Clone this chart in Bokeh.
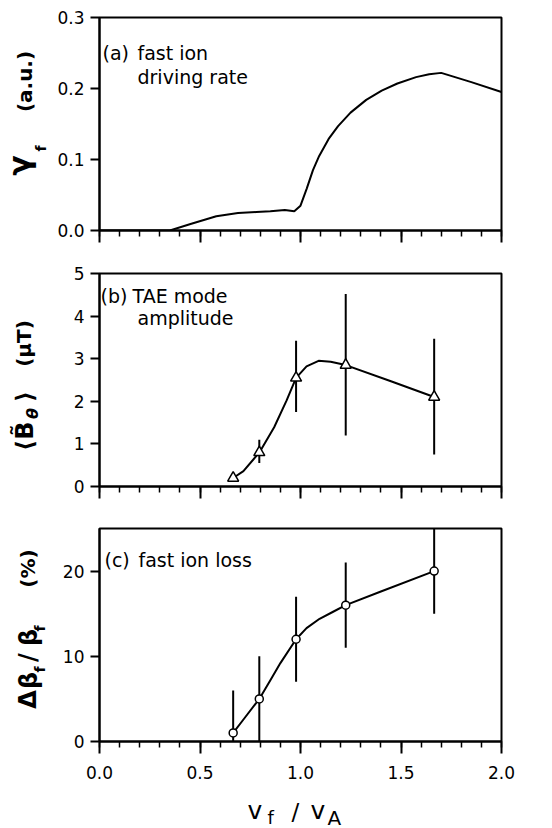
import math
from bokeh.plotting import figure
from bokeh.layouts import column, row
from bokeh.models import Label, FixedTicker, NumeralTickFormatter, Range1d
from bokeh.embed import file_html
from bokeh.resources import INLINE

# ---------------- data ----------------
x_ticks = [0.0, 0.5, 1.0, 1.5, 2.0]
x_minor = [0.1 * i for i in range(21)]
a_ticks = [0.0, 0.1, 0.2, 0.3]
b_ticks = [0, 1, 2, 3, 4, 5]
c_ticks = [0, 10, 20]

# (a) fast ion driving rate
a_curve_x = [0.0, 0.35, 0.457, 0.581, 0.689, 0.78, 0.85, 0.922, 0.969, 1.0, 1.031,
             1.062, 1.093, 1.14, 1.187, 1.249, 1.327, 1.404, 1.482, 1.575, 1.64,
             1.70, 1.85, 2.0]
a_curve_y = [0.0, 0.0, 0.0094, 0.020, 0.0245, 0.026, 0.027, 0.029, 0.027, 0.035, 0.059,
             0.085, 0.105, 0.129, 0.147, 0.166, 0.184, 0.197, 0.207, 0.216, 0.220,
             0.222, 0.209, 0.195]

# measured points (shared v_f/v_A)
pts_x = [0.665, 0.795, 0.978, 1.225, 1.665]

# (b) TAE mode amplitude
b_amp = [0.2, 0.8, 2.55, 2.85, 2.1]
b_lo = [0.2, 0.55, 1.75, 1.2, 0.75]
b_hi = [0.2, 1.1, 3.42, 4.52, 3.47]
b_curve_x = [0.665, 0.716, 0.797, 0.869, 0.931, 0.978, 1.03, 1.09, 1.15, 1.225, 1.45, 1.665]
b_curve_y = [0.2, 0.36, 0.81, 1.39, 2.02, 2.55, 2.82, 2.95, 2.93, 2.85, 2.47, 2.1]

# (c) fast ion loss
c_loss = [1, 5, 12, 16, 20]
c_lo = [0, 0, 7, 11, 15]
c_hi = [6, 10, 17, 21, 25]
c_curve_x = [0.665, 0.72, 0.795, 0.85, 0.90, 0.978, 1.03, 1.095, 1.16, 1.225, 1.40, 1.665]
c_curve_y = [1.0, 2.7, 5.0, 7.2, 9.2, 12.0, 13.3, 14.4, 15.2, 16.0, 17.6, 20.0]

# ---------------- layout ----------------
FONT = "DejaVu Sans"
W = 552
STRIP = 50          # width of the y-label strip on the left
FL = 99             # page x of the frame's left edge
FW, FH = 402, 213
XMAX = 2.0

# (top border, bottom border) for each panel
BORDERS = [(17, 22), (21, 22), (20, 46)]
ROW_TOP = [0, 252, 508]
XLAB_TOP = 508 + 20 + FH + 46
XLAB_H = 828 - XLAB_TOP


def make_fig(ymax, top, bottom, yticks, yfmt, xlabels):
    p = figure(frame_width=FW, frame_height=FH,
               x_range=Range1d(0, XMAX), y_range=Range1d(0, ymax),
               min_border_left=FL - STRIP, min_border_right=W - FL - FW,
               min_border_top=top, min_border_bottom=bottom,
               output_backend="svg", toolbar_location=None)
    p.title = None
    p.grid.visible = False
    p.outline_line_color = "black"
    p.outline_line_width = 2
    p.outline_line_alpha = 1
    p.background_fill_color = "white"
    p.border_fill_color = "white"

    xa = p.xaxis[0]
    xa.ticker = FixedTicker(ticks=x_ticks, minor_ticks=x_minor)
    xa.axis_line_width = 2
    xa.major_tick_in = 0
    xa.major_tick_out = 12
    xa.minor_tick_in = 0
    xa.minor_tick_out = 6
    xa.major_tick_line_width = 2
    xa.minor_tick_line_width = 1.5
    xa.formatter = NumeralTickFormatter(format="0.0")
    xa.major_label_text_font = FONT
    xa.major_label_text_color = "black"
    if xlabels:
        xa.major_label_text_font_size = "17px"
        xa.major_label_standoff = 12
    else:
        xa.major_label_overrides = {t: "" for t in x_ticks}
        xa.major_label_text_font_size = "0px"
        xa.major_label_standoff = 0

    ya = p.yaxis[0]
    ya.ticker = FixedTicker(ticks=yticks, minor_ticks=[])
    ya.axis_line_width = 2
    ya.major_tick_in = 0
    ya.major_tick_out = 9
    ya.minor_tick_in = 0
    ya.minor_tick_out = 0
    ya.major_tick_line_width = 2
    ya.formatter = NumeralTickFormatter(format=yfmt)
    ya.major_label_text_font = FONT
    ya.major_label_text_font_size = "17px"
    ya.major_label_text_color = "black"
    ya.major_label_standoff = 6
    return p


def make_strip(width, height):
    s = figure(frame_width=width, frame_height=height,
               x_range=Range1d(0, width), y_range=Range1d(0, height),
               x_axis_location=None, y_axis_location=None, min_border=0,
               output_backend="svg", toolbar_location=None)
    s.title = None
    s.grid.visible = False
    s.outline_line_color = None
    s.background_fill_color = "white"
    s.border_fill_color = "white"
    return s


def lab(p, x, y, text, size, style="normal", rot=False):
    p.add_layout(Label(x=x, y=y, x_units="data", y_units="data", text=text,
                       text_font=FONT, text_font_size=f"{size}px",
                       text_font_style=style, text_color="black",
                       angle=(math.pi / 2 if rot else 0), angle_units="rad",
                       text_align=("center" if rot else "left"),
                       text_baseline=("middle" if rot else "alphabetic")))


def strip_lab(s, top, height, X, Y, text, size, style="normal", rot=False):
    """label in a strip figure, given page pixel coordinates"""
    lab(s, X, height - (Y - top), text, size, style, rot)


def page_lab(p, k, X, Y, text, size, style="normal"):
    """label inside a panel's frame, given page pixel coordinates"""
    top = ROW_TOP[k] + BORDERS[k][0]
    ymax = p.y_range.end
    x = (X - FL) / FW * XMAX
    y = (top + FH - Y) / FH * ymax
    lab(p, x, y, text, size, style)


# ---- panel (a)
ta, ba = BORDERS[0]
pa = make_fig(0.3, ta, ba, a_ticks, "0.0", False)
pa.line(a_curve_x, a_curve_y, line_color="black", line_width=2)
page_lab(pa, 0, 102, 52, "(a)", 19)
page_lab(pa, 0, 137, 52, "fast ion", 19)
page_lab(pa, 0, 137, 76, "driving rate", 19)
ha = ta + FH + ba
sa = make_strip(STRIP, ha)
r0 = ROW_TOP[0]
strip_lab(sa, r0, ha, 19, 148, "γ", 30, "bold", True)
strip_lab(sa, r0, ha, 40, 131, "f", 14, "bold", True)
strip_lab(sa, r0, ha, 24, 64, "(a.u.)", 20, "bold", True)

# ---- panel (b)
tb, bb = BORDERS[1]
pb = make_fig(5.0, tb, bb, b_ticks, "0", False)
pb.segment(x0=pts_x, y0=b_lo, x1=pts_x, y1=b_hi, line_color="black", line_width=2)
pb.line(b_curve_x, b_curve_y, line_color="black", line_width=2)
pb.scatter(pts_x, b_amp, marker="triangle", size=11, fill_color="white",
           line_color="black", line_width=1.5)
page_lab(pb, 1, 100, 295, "(b)", 19)
page_lab(pb, 1, 132, 295, "TAE mode", 19)
page_lab(pb, 1, 137, 317, "amplitude", 19)
hb = tb + FH + bb
sb = make_strip(STRIP, hb)
r1 = ROW_TOP[1]
strip_lab(sb, r1, hb, 24, 424, "⟨", 24, "bold", True)
strip_lab(sb, r1, hb, 24, 409, "B\u0303", 24, "bold", True)
strip_lab(sb, r1, hb, 32, 392, "θ", 16, "bold italic", True)
strip_lab(sb, r1, hb, 24, 375, "⟩", 24, "bold", True)
strip_lab(sb, r1, hb, 23, 322, "(μT)", 20, "bold", True)

# ---- panel (c)
tc, bc = BORDERS[2]
pc = make_fig(25.0, tc, bc, c_ticks, "0", True)
pc.segment(x0=pts_x, y0=c_lo, x1=pts_x, y1=c_hi, line_color="black", line_width=2)
pc.line(c_curve_x, c_curve_y, line_color="black", line_width=2)
pc.scatter(pts_x, c_loss, marker="circle", size=8, fill_color="white",
           line_color="black", line_width=1.5)
page_lab(pc, 2, 104, 559, "(c)", 19)
page_lab(pc, 2, 138, 559, "fast ion loss", 19)
hc = tc + FH + bc
sc = make_strip(STRIP, hc)
r2 = ROW_TOP[2]
strip_lab(sc, r2, hc, 27, 679, "Δ", 24, "bold", True)
strip_lab(sc, r2, hc, 28, 660, "β", 24, "bold", True)
strip_lab(sc, r2, hc, 39, 649, "f", 14, "bold", True)
strip_lab(sc, r2, hc, 27, 637, "/", 24, "bold", True)
strip_lab(sc, r2, hc, 28, 617, "β", 24, "bold", True)
strip_lab(sc, r2, hc, 39, 608, "f", 14, "bold", True)
strip_lab(sc, r2, hc, 27, 548, "(%)", 20, "bold", True)

# ---- x axis label  v_f / v_A
sx = make_strip(W, XLAB_H)
strip_lab(sx, XLAB_TOP, XLAB_H, 247, 810, "v", 25)
strip_lab(sx, XLAB_TOP, XLAB_H, 267, 817, "f", 18)
strip_lab(sx, XLAB_TOP, XLAB_H, 291, 811, "/", 23)
strip_lab(sx, XLAB_TOP, XLAB_H, 310, 810, "v", 25)
strip_lab(sx, XLAB_TOP, XLAB_H, 327, 817, "A", 20)

layout = column(row(sa, pa, spacing=0), row(sb, pb, spacing=0),
                row(sc, pc, spacing=0), sx, spacing=0)
open("out.html", "w").write(file_html(layout, INLINE))
